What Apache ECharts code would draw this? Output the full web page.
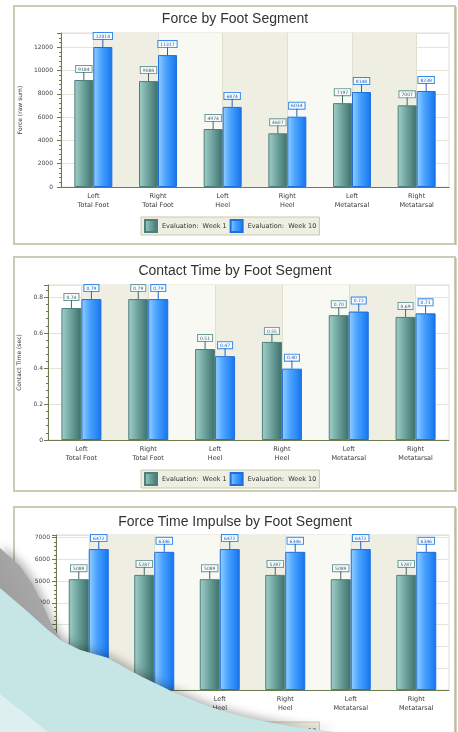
<!DOCTYPE html>
<html>
<head>
<meta charset="utf-8">
<script src="https://cdn.jsdelivr.net/npm/echarts@6/dist/echarts.min.js"></script>
<style>
html,body{margin:0;padding:0;background:#fff;}
#c{width:458px;height:732px;}
</style>
</head>
<body>
<div id="c"></div>
<script>
// ---- data ----
var categories = ['Left\nTotal Foot', 'Right\nTotal Foot', 'Left\nHeel', 'Right\nHeel', 'Left\nMetatarsal', 'Right\nMetatarsal'];
var seriesNames = ['Evaluation:  Week 1', 'Evaluation:  Week 10'];
var forceWeek1 = [9184, 9088, 4974, 4607, 7197, 7007];
var forceWeek10 = [12014, 11317, 6874, 6034, 8148, 8238];
var contactWeek1 = [0.74, 0.79, 0.51, 0.55, 0.70, 0.69];
var contactWeek10 = [0.79, 0.79, 0.47, 0.40, 0.72, 0.71];
var impulseWeek1 = [5089, 5287, 5089, 5287, 5089, 5287];
var impulseWeek10 = [6472, 6346, 6472, 6346, 6472, 6346];
var titles = ['Force by Foot Segment', 'Contact Time by Foot Segment', 'Force Time Impulse by Foot Segment'];
var yNames = ['Force (raw sum)', 'Contact Time (sec)', 'Force (raw sum*sec)'];
var yIntervals = [2000, 0.2, 1000];

// ---- styles ----
var FONT = 'DejaVu Sans';
var axisColor = '#6d7b50';
function tealGrad() { return new echarts.graphic.LinearGradient(0, 0, 1, 0, [
  {offset: 0, color: '#a3d0cb'}, {offset: 0.45, color: '#70a59f'}, {offset: 1, color: '#3d6f69'}]); }
function blueGrad() { return new echarts.graphic.LinearGradient(0, 0, 1, 0, [
  {offset: 0, color: '#98d0ff'}, {offset: 0.4, color: '#4ca4ff'}, {offset: 1, color: '#1474ee'}]); }
var styles = [
  {fill: tealGrad, border: '#4f7f79', line: '#3f6a65', text: '#3d5f5b', box: '#6f9a95'},
  {fill: blueGrad, border: '#1c6fdc', line: '#1b66d0', text: '#1a5cc0', box: '#3a8ae6'}
];

var grids = [
  {left: 61, right: 9, top: 33, height: 154},
  {left: 48, right: 9, top: 285, height: 155},
  {left: 56, right: 9, top: 535, height: 155}
];
var nameGaps = [30, 19, 28];
var labelMargins = [8, 5, 6];
var barWidths = [19, 20, 20];
var legendTops = [217, 470, 722];
var titleYs = [19, 271, 522];
var dataSets = [[forceWeek1, forceWeek10], [contactWeek1, contactWeek10], [impulseWeek1, impulseWeek10]];
var decimals = [0, 2, 0];

var xAxes = [], yAxes = [], series = [], legends = [], gridOpts = [];
grids.forEach(function (g, i) {
  gridOpts.push(Object.assign({show: true, backgroundColor: 'transparent', borderColor: '#deded0', borderWidth: 1}, g));
  xAxes.push({
    type: 'category', gridIndex: i, data: categories,
    axisLine: {lineStyle: {color: axisColor, width: 1}},
    axisTick: {alignWithLabel: true, length: 3, lineStyle: {color: axisColor}},
    axisLabel: {interval: 0, fontFamily: FONT, fontSize: 6.5, color: '#3a3a3a', lineHeight: 9, margin: 5},
    splitLine: {show: true, alignWithLabel: true, interval: 0, lineStyle: {color: '#e0e0cf'}},
    splitArea: {show: true, alignWithLabel: true, interval: 0, areaStyle: {color: ['#efeee3', '#f9f9f4']}}
  });
  yAxes.push({
    type: 'value', gridIndex: i, min: 0,
    max: function (v) { return v.max * 1.1; },
    interval: yIntervals[i],
    name: yNames[i], nameLocation: 'middle', nameGap: nameGaps[i],
    nameTextStyle: {fontFamily: FONT, fontSize: 6, color: '#333'},
    axisLine: {show: true, lineStyle: {color: axisColor}},
    axisTick: {show: true, length: 4, lineStyle: {color: axisColor}},
    minorTick: {show: true, splitNumber: 5, length: 2, lineStyle: {color: axisColor}},
    axisLabel: {fontFamily: FONT, fontSize: 6, color: '#444', margin: labelMargins[i], showMaxLabel: false,
      formatter: function (v) { return String(Math.round(v * 100) / 100); }},
    splitLine: {lineStyle: {color: '#e4e4d6'}}
  });
  legends.push({
    data: seriesNames, left: 141, top: legendTops[i], orient: 'horizontal',
    itemWidth: 12, itemHeight: 12, itemGap: 3, icon: 'rect',
    padding: [2, 3], backgroundColor: '#eeeee2', borderColor: '#c9c9b2', borderWidth: 1,
    textStyle: {fontFamily: FONT, fontSize: 6.5, color: '#333'}
  });
  dataSets[i].forEach(function (arr, s) {
    var st = styles[s];
    series.push({
      type: 'bar', name: seriesNames[s], xAxisIndex: i, yAxisIndex: i, data: arr,
      barWidth: barWidths[i], barGap: '0%',
      itemStyle: {color: st.fill(), borderColor: st.border, borderWidth: 1},
      label: {
        show: true, position: 'top', distance: 8,
        formatter: (function (d) { return function (p) { return Number(p.value).toFixed(d); }; })(decimals[i]),
        fontFamily: FONT, fontSize: 4.5, color: st.text,
        backgroundColor: '#f7fbff', borderColor: st.box, borderWidth: 1, padding: [1, 2, 0, 2]
      },
      emphasis: {disabled: true}
    });
    // leader lines from bar top to label box
    series.push({
      type: 'custom', name: seriesNames[s], xAxisIndex: i, yAxisIndex: i,
      data: arr.map(function (v, k) { return [k, v]; }),
      z: 3, silent: true,
      renderItem: (function (side, bw, color) {
        return function (params, api) {
          var p = api.coord([api.value(0), api.value(1)]);
          var x = p[0] + side * bw / 2;
          return {type: 'line', shape: {x1: x, y1: p[1], x2: x, y2: p[1] - 8},
            style: {stroke: color, lineWidth: 1}};
        };
      })(s === 0 ? -1 : 1, barWidths[i], st.line)
    });
  });
});

// panel frames, titles and the page-curl decoration
var graphics = [];
var panels = [[6, 238], [257, 234], [507, 240]];
panels.forEach(function (pn) {
  graphics.push({type: 'rect', z: -10, silent: true, shape: {x: 14, y: pn[0], width: 441, height: pn[1]},
    style: {fill: '#ffffff', stroke: '#c9cdb3', lineWidth: 2}});
  graphics.push({type: 'line', z: -9, silent: true, shape: {x1: 456, y1: pn[0] + 1, x2: 456, y2: pn[0] + pn[1] + 1},
    style: {stroke: '#a3ae84', lineWidth: 1}});
});
titles.forEach(function (t, i) {
  graphics.push({type: 'text', z: 5, x: 235, y: titleYs[i],
    style: {text: t, fontFamily: 'Liberation Sans', fontSize: 14, fill: '#333', align: 'center', verticalAlign: 'middle'}});
});
// page curl (decoration only)
var curlEdge = [[62, 641], [80, 650], [108, 658], [140, 676], [173, 692], [210, 707], [240, 716], [267, 722], [300, 728], [335, 732]];
var flapPts = [[0, 548], [20, 566], [33, 585], [42, 603], [52, 626]].concat(curlEdge).concat([[0, 732]]);
var tealPts = [[0, 588], [28, 612], [48, 630]].concat(curlEdge).concat([[0, 732]]);
graphics.push({type: 'polygon', z: 100, silent: true,
  shape: {points: flapPts},
  style: {fill: new echarts.graphic.LinearGradient(1, 0, 0, 1, [{offset: 0, color: '#ffffff'}, {offset: 0.55, color: '#bdbdbd'}, {offset: 1, color: '#8a8a8a'}]),
    shadowColor: 'rgba(0,0,0,0.3)', shadowBlur: 10, shadowOffsetX: 3, shadowOffsetY: -2}});
graphics.push({type: 'polygon', z: 101, silent: true,
  shape: {points: tealPts},
  style: {fill: '#c6e6e5'}});
graphics.push({type: 'polygon', z: 102, silent: true,
  shape: {points: [[0, 694], [0, 732], [48, 732]]},
  style: {fill: '#ddf0ef'}});

var chart = echarts.init(document.getElementById('c'), null, {renderer: 'canvas'});
chart.setOption({
  backgroundColor: '#ffffff',
  animation: false,
  grid: gridOpts,
  xAxis: xAxes,
  yAxis: yAxes,
  legend: legends,
  series: series,
  graphic: graphics
});
</script>
</body>
</html>
